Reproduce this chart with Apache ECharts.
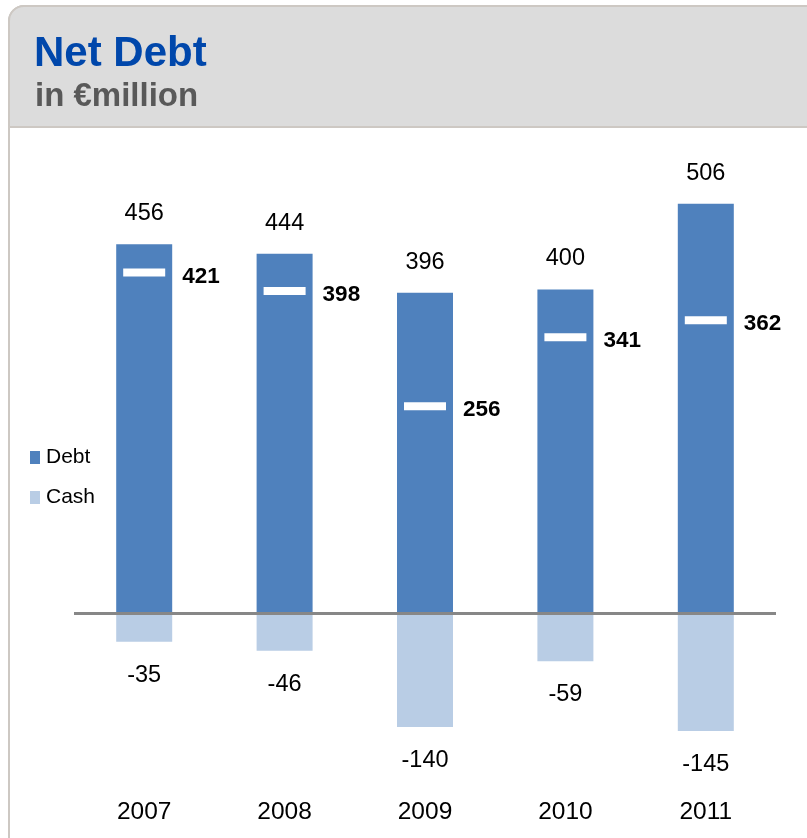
<!DOCTYPE html>
<html>
<head>
<meta charset="utf-8">
<script src="https://cdn.jsdelivr.net/npm/echarts@6/dist/echarts.min.js"></script>
<style>
html,body{margin:0;padding:0;background:#fff;}
#chart{width:807px;height:838px;}
</style>
</head>
<body>
<div id="chart"></div>
<script>
var years = ['2007', '2008', '2009', '2010', '2011'];
var debt = [456, 444, 396, 400, 506];
var cash = [-35, -46, -140, -59, -145];
var netDebt = [421, 398, 256, 341, 362];

var FONT = '"Liberation Sans", Arial, Helvetica, sans-serif';
var chart = echarts.init(document.getElementById('chart'));
chart.setOption({
  animation: false,
  backgroundColor: '#ffffff',
  textStyle: { fontFamily: FONT },
  graphic: [
    { type: 'rect', z: -10, shape: { x: 9, y: 6, width: 900, height: 900, r: [15, 0, 0, 0] },
      style: { fill: '#ffffff', stroke: '#cdc8c3', lineWidth: 2 } },
    { type: 'rect', z: -9, shape: { x: 9, y: 6, width: 900, height: 121, r: [15, 0, 0, 0] },
      style: { fill: '#dcdcdc', stroke: '#cdc8c3', lineWidth: 2 } }
  ],
  title: [
    { text: 'Net Debt', left: 34, top: 33, padding: 0,
      textStyle: { fontFamily: FONT, fontSize: 42, fontWeight: 'bold', color: '#0047ab', lineHeight: 42 } },
    { text: 'in €million', left: 35, top: 80, padding: 0,
      textStyle: { fontFamily: FONT, fontSize: 33, fontWeight: 'bold', color: '#595959', lineHeight: 33 } }
  ],
  legend: {
    data: ['Debt', 'Cash'],
    orient: 'vertical',
    left: 30, top: 447, padding: 0,
    icon: 'rect', itemWidth: 10, itemHeight: 13, itemGap: 19,
    textStyle: { fontFamily: FONT, fontSize: 21, color: '#000', lineHeight: 21, padding: [0, 0, 0, 1] },
    selectedMode: false
  },
  grid: { left: 74, right: 31, top: 127.5, bottom: 62.5 },
  xAxis: {
    type: 'category', data: years,
    axisLine: { show: false, onZero: false },
    axisTick: { show: false },
    splitLine: { show: false },
    axisLabel: { margin: 25, fontSize: 24.5, color: '#000', fontFamily: FONT, lineHeight: 24 }
  },
  yAxis: { type: 'value', min: -200, max: 600, show: false, splitLine: { show: false } },
  series: [
    {
      name: 'Debt', type: 'bar', stack: 'total', barWidth: 56, data: debt,
      itemStyle: { color: '#4f81bd' },
      label: { show: true, position: 'top', distance: 19, fontSize: 23.5, lineHeight: 23, color: '#000', fontFamily: FONT },
      markLine: {
        silent: true, symbol: 'none', label: { show: false },
        lineStyle: { color: '#878787', width: 3, type: 'solid' },
        data: [{ yAxis: 0 }]
      }
    },
    {
      name: 'Cash', type: 'bar', stack: 'total', barWidth: 56, data: cash,
      itemStyle: { color: '#b9cde5' },
      label: { show: true, position: 'bottom', distance: 22, fontSize: 23.5, lineHeight: 23, color: '#000', fontFamily: FONT }
    },
    {
      name: 'Net debt', type: 'scatter', data: netDebt, z: 5,
      symbol: 'rect', symbolSize: [42, 8],
      itemStyle: { color: '#ffffff', opacity: 1 },
      label: { show: true, position: 'right', distance: 17, offset: [0, 4], fontSize: 22.5, fontWeight: 'bold', color: '#000', opacity: 1, fontFamily: FONT }
    }
  ]
});
</script>
</body>
</html>
